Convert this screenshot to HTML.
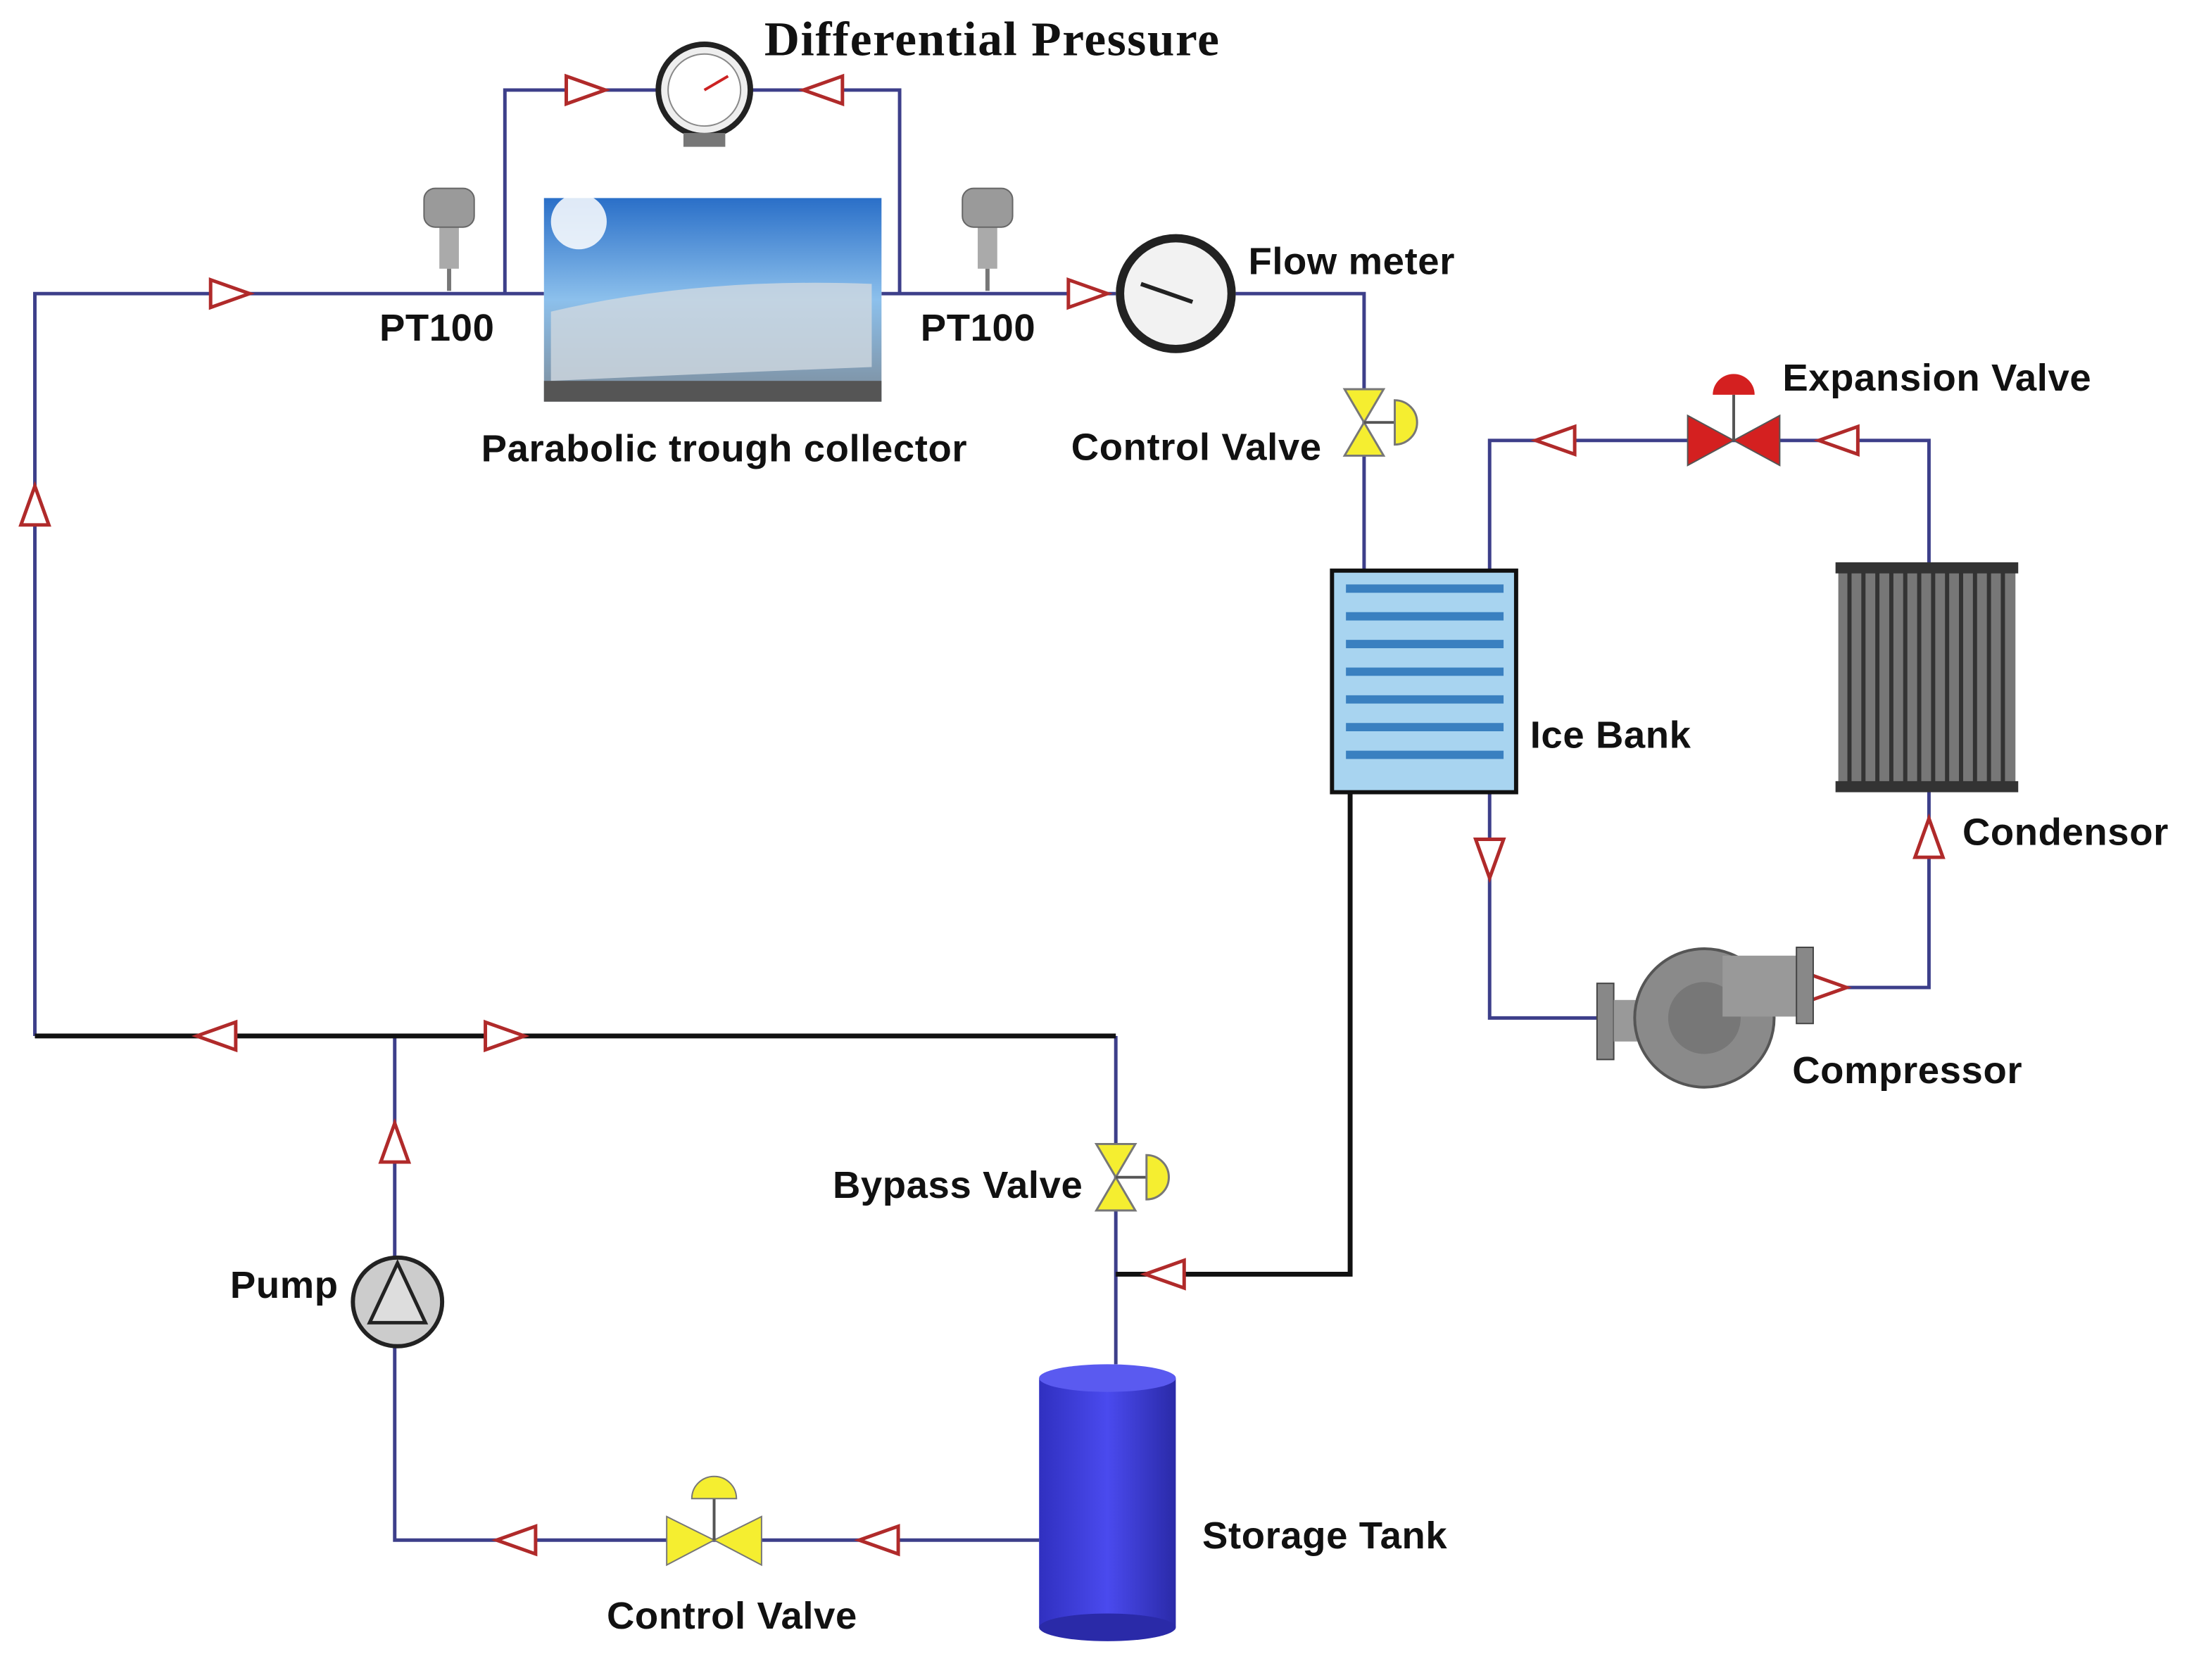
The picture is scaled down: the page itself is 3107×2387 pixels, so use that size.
<!DOCTYPE html>
<html><head><meta charset="utf-8"><style>
html,body{margin:0;padding:0;background:#fff;width:3107px;height:2387px;overflow:hidden}
svg{display:block}
text{font-family:"Liberation Sans",sans-serif;font-weight:bold;font-size:27.5px;fill:#111;letter-spacing:0.3px}
</style></head><body>
<svg width="3107" height="2387" viewBox="0 0 1568 1213" preserveAspectRatio="none" xmlns="http://www.w3.org/2000/svg">
<defs>
<g id="ar"><polygon points="-14,-10 14,0 -14,10" fill="#fff" stroke="#b02a2a" stroke-width="2.5"/></g>
<linearGradient id="tank" x1="0" x2="1"><stop offset="0" stop-color="#3030c0"/><stop offset=".5" stop-color="#4a4aee"/><stop offset="1" stop-color="#2a2aa8"/></linearGradient>
<linearGradient id="sky" x1="0" y1="0" x2="0" y2="1"><stop offset="0" stop-color="#2a6fc8"/><stop offset=".5" stop-color="#8cc0ec"/><stop offset="1" stop-color="#7d8c9a"/></linearGradient>
<g id="yv"><polygon points="-14,-24 14,-24 0,0" fill="#f5ee30" stroke="#777" stroke-width="1.5"/><polygon points="-14,24 14,24 0,0" fill="#f5ee30" stroke="#777" stroke-width="1.5"/><line x1="0" y1="0" x2="22" y2="0" stroke="#555" stroke-width="2"/><path d="M22,-16 A16,16 0 0 1 22,16 Z" fill="#f5ee30" stroke="#777" stroke-width="1.5"/></g>
<g id="pt"><rect x="-7" y="-8" width="14" height="34" fill="#aaa"/><rect x="-18" y="-32" width="36" height="28" rx="8" fill="#9a9a9a" stroke="#666"/><line x1="0" y1="26" x2="0" y2="42" stroke="#777" stroke-width="3"/></g>
</defs>
<g fill="none" stroke="#3d3f8a" stroke-width="2.5">
<polyline points="25,748 25,212 390,212"/>
<polyline points="362,212 362,65 472,65"/><polyline points="538,65 645,65 645,212"/>
<polyline points="632,212 800,212"/>
<polyline points="886,212 978,212 978,412"/>
<polyline points="800,748 800,985"/>
<polyline points="283,748 283,908"/><polyline points="283,972 283,1112 745,1112"/>
<polyline points="1068,412 1068,318 1383,318 1383,410"/>
<polyline points="1383,568 1383,713 1298,713"/>
<polyline points="1068,572 1068,735 1145,735"/>
</g>
<g fill="none" stroke="#111" stroke-width="3.5">
<polyline points="25,748 800,748"/>
<polyline points="968,572 968,920 800,920"/>
</g>
<use href="#ar" transform="translate(165,212)"/>
<use href="#ar" transform="translate(25,365) rotate(-90)"/>
<use href="#ar" transform="translate(420,65)"/>
<use href="#ar" transform="translate(590,65) rotate(180)"/>
<use href="#ar" transform="translate(780,212)"/>
<use href="#ar" transform="translate(155,748) rotate(180)"/>
<use href="#ar" transform="translate(362,748)"/>
<use href="#ar" transform="translate(283,825) rotate(-90)"/>
<use href="#ar" transform="translate(370,1112) rotate(180)"/>
<use href="#ar" transform="translate(630,1112) rotate(180)"/>
<use href="#ar" transform="translate(835,920) rotate(180)"/>
<use href="#ar" transform="translate(1115,318) rotate(180)"/>
<use href="#ar" transform="translate(1318,318) rotate(180)"/>
<use href="#ar" transform="translate(1068,620) rotate(90)"/>
<use href="#ar" transform="translate(1383,605) rotate(-90)"/>
<use href="#ar" transform="translate(1310,713)"/>
<circle cx="505" cy="65" r="33" fill="#eee" stroke="#222" stroke-width="4"/>
<circle cx="505" cy="65" r="26" fill="#fff" stroke="#888"/>
<line x1="505" y1="65" x2="522" y2="55" stroke="#c22" stroke-width="2"/>
<rect x="490" y="96" width="30" height="10" fill="#777"/>
<rect x="390" y="143" width="242" height="147" fill="url(#sky)"/>
<circle cx="415" cy="160" r="20" fill="#fff" opacity=".85"/>
<path d="M395,225 Q500,200 625,205 L625,265 Q500,270 395,275 Z" fill="#cfd8e0" opacity=".8"/>
<rect x="390" y="275" width="242" height="15" fill="#555"/>
<use href="#pt" transform="translate(322,168)"/>
<use href="#pt" transform="translate(708,168)"/>
<circle cx="843" cy="212" r="43" fill="#222"/>
<circle cx="843" cy="212" r="37" fill="#f2f2f2"/>
<line x1="818" y1="205" x2="855" y2="218" stroke="#222" stroke-width="3"/>
<use href="#yv" transform="translate(978,305)"/>
<use href="#yv" transform="translate(800,850)"/>
<rect x="955" y="412" width="132" height="160" fill="#a8d4f0" stroke="#111" stroke-width="3"/>
<g fill="none" stroke="#3a80c0" stroke-width="6">
<path d="M965,425 H1078 M965,445 H1078 M965,465 H1078 M965,485 H1078 M965,505 H1078 M965,525 H1078 M965,545 H1078"/>
</g>
<polygon points="1210,300 1243,318 1210,336" fill="#d42020" stroke="#555"/>
<polygon points="1276,300 1243,318 1276,336" fill="#d42020" stroke="#555"/>
<line x1="1243" y1="318" x2="1243" y2="285" stroke="#555" stroke-width="2"/>
<path d="M1228,285 A15,15 0 0 1 1258,285 Z" fill="#d42020"/>
<rect x="1318" y="410" width="127" height="158" fill="#777"/>
<g stroke="#333" stroke-width="3"><path d="M1326,412V566M1336,412V566M1346,412V566M1356,412V566M1366,412V566M1376,412V566M1386,412V566M1396,412V566M1406,412V566M1416,412V566M1426,412V566M1436,412V566"/></g>
<rect x="1316" y="406" width="131" height="8" fill="#333"/><rect x="1316" y="564" width="131" height="8" fill="#333"/>
<rect x="1145" y="710" width="12" height="55" fill="#888" stroke="#444"/>
<rect x="1157" y="722" width="60" height="30" fill="#999"/>
<circle cx="1222" cy="735" r="50" fill="#8a8a8a" stroke="#555" stroke-width="2"/>
<circle cx="1222" cy="735" r="26" fill="#777"/>
<rect x="1235" y="690" width="55" height="44" fill="#999"/>
<rect x="1288" y="684" width="12" height="55" fill="#888" stroke="#444"/>
<circle cx="285" cy="940" r="32" fill="#ccc" stroke="#222" stroke-width="3"/>
<polygon points="265,955 285,912 305,955" fill="#ddd" stroke="#222" stroke-width="2.5"/>
<polygon points="478,1095 512,1112 478,1130" fill="#f5ee30" stroke="#777"/>
<polygon points="546,1095 512,1112 546,1130" fill="#f5ee30" stroke="#777"/>
<line x1="512" y1="1112" x2="512" y2="1082" stroke="#555" stroke-width="2"/>
<path d="M496,1082 A16,16 0 0 1 528,1082 Z" fill="#f5ee30" stroke="#777"/>
<rect x="745" y="995" width="98" height="180" fill="url(#tank)"/>
<ellipse cx="794" cy="1175" rx="49" ry="10" fill="#2a2aa8"/>
<ellipse cx="794" cy="995" rx="49" ry="10" fill="#5a5af0"/>
<text x="548" y="40" style="font-family:'Liberation Serif',serif;font-size:35px;letter-spacing:0.8px">Differential Pressure</text>
<text x="272" y="246">PT100</text>
<text x="660" y="246">PT100</text>
<text x="345" y="333">Parabolic trough collector</text>
<text x="895" y="198">Flow meter</text>
<text x="768" y="332">Control Valve</text>
<text x="1278" y="282">Expansion Valve</text>
<text x="1097" y="540">Ice Bank</text>
<text x="1407" y="610">Condensor</text>
<text x="1285" y="782">Compressor</text>
<text x="597" y="865">Bypass Valve</text>
<text x="165" y="937">Pump</text>
<text x="862" y="1118">Storage Tank</text>
<text x="435" y="1176">Control Valve</text>
</svg>
</body></html>
